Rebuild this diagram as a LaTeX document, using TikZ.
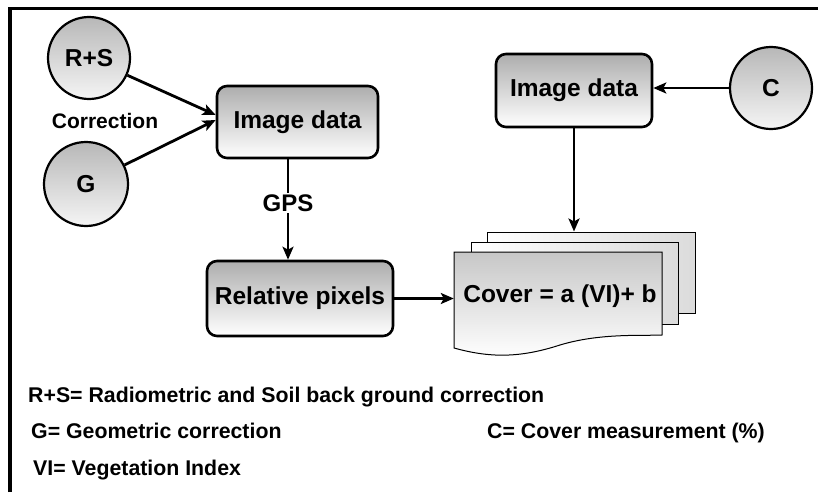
\documentclass[tikz,border=0pt]{standalone}
\usepackage{fontspec}
\setmainfont{Liberation Sans}
\usetikzlibrary{arrows.meta,calc}

\begin{document}
\begin{tikzpicture}[x=1pt,y=-1pt,
  bigtxt/.style={font=\fontsize{24.5}{28}\selectfont\bfseries},
  midtxt/.style={font=\fontsize{21}{24}\selectfont\bfseries},
  legtxt/.style={font=\fontsize{21.3}{24}\selectfont\bfseries, anchor=base west, inner sep=0pt},
  procbox/.style={draw, line width=2.6pt, rounded corners=10pt, top color=black!32, bottom color=white, bigtxt, inner sep=0pt},
  srcnode/.style={circle, draw, line width=2.2pt, top color=black!28, bottom color=black!4, minimum size=82pt, inner sep=0pt, bigtxt},
  sheet/.style={draw, line width=1pt, left color=white, right color=black!14, inner sep=0pt},
  flow/.style={line width=2.8pt, -{Stealth[length=13pt,width=11pt,inset=3pt]}},
  plain/.style={line width=2.8pt}
]
\useasboundingbox (0,0) rectangle (818,492);

% outer frame (top and left edges)
\draw[line width=3.2pt] (10,492) -- (10,8.5) -- (818,8.5);

% correction sources and first image block
\node[srcnode] (rs) at (89,58) {R+S};
\node[srcnode, minimum size=84pt] (g) at (86,184) {G};
\node[midtxt] (corr) at (105,121) {Correction};
\node[procbox, minimum width=161pt, minimum height=72pt] (img1) at (297.5,122) {Image data};

% georeferencing step
\node[bigtxt, font=\fontsize{24}{28}\selectfont\bfseries] (gps) at (288,203) {GPS};
\node[procbox, minimum width=186pt, minimum height=75pt] (rel) at (300,298.5) {Relative pixels};

% cover measurement branch
\node[procbox, minimum width=156pt, minimum height=73pt] (img2) at (574,90.5) {Image data};
\node[srcnode] (c) at (771,88) {C};

% stacked documents for the regression
\node[sheet, minimum width=208pt, minimum height=81pt] (back) at (591,272.5) {};
\node[sheet, minimum width=207pt, minimum height=82pt] (mid) at (574.5,283) {};
\node[inner sep=0pt, minimum width=208pt, minimum height=96pt] (front) at (558,300) {};
\draw[line width=1pt, top color=black!22, middle color=black!36, bottom color=white]
  (454,252) -- (662,252) -- (662,335)
  .. controls (640,336) and (600,333) .. (560,345)
  .. controls (520,358) and (490,358) .. (454,348) -- cycle;
\node[bigtxt] (covertxt) at (560,296) {Cover = a (VI)+ b};

% connectors
\draw[flow] (rs) -- ([yshift=7pt]img1.west);
\draw[flow] (g) -- ([yshift=2pt]img1.west);
\draw[plain] (gps.north |- img1.south) -- ([yshift=-2pt]gps.north);
\draw[flow] ([yshift=2pt]gps.south) -- (gps.south |- rel.north);
\draw[flow] (rel.east) -- (rel.east -| front.west);
\draw[flow] (c.west) -- (c.west -| img2.east);
\draw[flow] (img2.south) -- (img2.south |- back.north);

% legend
\node[legtxt] (l1) at (28,402) {R+S= Radiometric and Soil back ground correction};
\node[legtxt] (l2) at (31,438) {G= Geometric correction};
\node[legtxt] (l3) at (487,438) {C= Cover measurement (\%)};
\node[legtxt] (l4) at (33,475) {VI= Vegetation Index};
\end{tikzpicture}
\end{document}
